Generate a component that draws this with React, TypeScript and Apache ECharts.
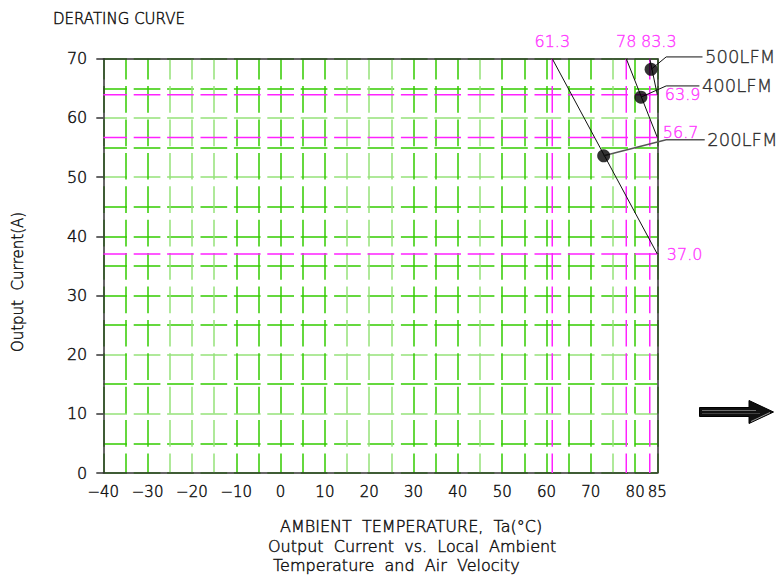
import { useEffect, useRef } from 'react';
import * as echarts from 'echarts';

const xMin = -40;
const xMax = 85;
const xStep = 5;
const yMin = 0;
const yMax = 70;
const yStep = 5;

const airflowNames = ['200LFM', '400LFM', '500LFM'];
const deratingStartTemp = [61.3, 78, 83.3];
const currentAtMaxTemp = [37.0, 56.7, 63.9];
const markerTemp = [72.9, 81.3, 83.6];
const markerCurrent = [53.6, 63.5, 68.2];
const leaderElbowTemp = [87, 87, 87];
const leaderEndTemp = [95.7, 94.5, 95.2];
const leaderCurrent = [56.3, 65.4, 70.3];
const refTempLabels = ['61.3', '78', '83.3'];
const refCurrentLabels = ['37.0', '56.7', '63.9'];

const FONT = 'DejaVu Sans';

export default function App() {
  const ref = useRef<HTMLDivElement>(null);
  useEffect(() => {
    const chart = echarts.init(ref.current!, null, { renderer: 'svg' });
    const dark = '#33cc00';
    const light = '#95e27a';
    const mag = '#ff22ff';
    const ink = '#111';
    const bw = 0.45;
    const dash = [26.7, 6.7];
    const D = dark, L = light;
    const xColors = [D, D, D, L, L, L, D, D, D, D, D, L, L, L, D, D, D, L, D, D, D, D, D, L, D, D];
    const yColors = [D, D, L, D, L, D, D, D, D, D, L, D, L, D, D];

    const inkText = { fontFamily: FONT, fontWeight: 200, color: ink, textBorderColor: ink, textBorderWidth: bw };
    const magText = { fontFamily: FONT, fontWeight: 200, color: mag, textBorderColor: mag, textBorderWidth: bw };

    const fmtX = (v: number) => {
      if (v % 10 !== 0 && v !== xMax) return '';
      return v < 0 ? '\u2212' + Math.abs(v) : String(v);
    };

    const magV = deratingStartTemp.map((t) => ({
      type: 'line',
      data: [[t, yMax], [t, yMin]],
      symbol: 'none',
      silent: true,
      z: 3,
      lineStyle: { color: mag, width: 1.5, type: dash, dashOffset: 6 },
    }));
    const magH = currentAtMaxTemp.map((c) => ({
      type: 'line',
      data: [[xMin, c], [xMax, c]],
      symbol: 'none',
      silent: true,
      z: 3,
      lineStyle: { color: mag, width: 1.5, type: dash, dashOffset: 2.7 },
    }));
    const curves = airflowNames.map((n, i) => ({
      type: 'line',
      name: n,
      data: [[deratingStartTemp[i], yMax], [xMax, currentAtMaxTemp[i]]],
      symbol: 'none',
      silent: true,
      z: 5,
      lineStyle: { color: '#111', width: 1 },
    }));

    const topLabelOffsets = [[0, 0], [0, 0], [9, 0]];
    const rightLabelOffsets = [[2, 0], [-2, -4.6], [0, 0]];

    const gText = (text: string, x: number, y: number, size: number, extra: any = {}) => ({
      type: 'text',
      x,
      y,
      ...extra,
      style: {
        text,
        font: `200 ${size}px "${FONT}"`,
        fill: ink,
        stroke: ink,
        lineWidth: bw,
        align: extra.align || 'left',
        verticalAlign: 'middle',
      },
    });

    const staticGraphic: any[] = [
      {
        ...gText('Output  Current(A)', 17.5, 282, 15),
        rotation: Math.PI / 2,
        style: {
          text: 'Output  Current(A)',
          font: `200 15px "${FONT}"`,
          fill: ink,
          stroke: ink,
          lineWidth: bw,
          align: 'center',
          verticalAlign: 'middle',
        },
      },
      gText('AMBIENT  TEMPERATURE,  Ta(\u00B0C)', 280, 526, 16),
      gText('Output  Current  vs.  Local  Ambient', 268, 546.5, 16),
      gText('Temperature  and  Air  Velocity', 273, 565, 16),
      {
        type: 'polygon',
        shape: {
          points: [
            [699.5, 407.5],
            [749, 407.5],
            [749, 400.5],
            [773.5, 412],
            [749, 423.5],
            [749, 416.5],
            [699.5, 416.5],
          ],
        },
        style: { fill: '#111', stroke: '#000', lineWidth: 1 },
      },
      {
        type: 'line',
        shape: { x1: 702, y1: 410.5, x2: 756, y2: 410.5 },
        style: { stroke: '#888', lineWidth: 0.8 },
      },
      {
        type: 'line',
        shape: { x1: 702, y1: 413.5, x2: 760, y2: 413.5 },
        style: { stroke: '#666', lineWidth: 0.6 },
      },
      {
        type: 'line',
        shape: { x1: 751, y1: 421.5, x2: 770, y2: 412.5 },
        style: { stroke: '#bbb', lineWidth: 0.8 },
      },
    ];

    const option: any = {
      animation: false,
      textStyle: { fontFamily: FONT },
      title: {
        text: 'DERATING CURVE',
        left: 48,
        top: 6,
        textStyle: { ...inkText, fontSize: 15 },
      },
      grid: { left: 103.3, right: 120.7, top: 58.7, bottom: 104, containLabel: false },
      xAxis: [
        {
          type: 'value',
          position: 'bottom',
          min: xMin,
          max: xMax,
          interval: xStep,
          axisLine: { show: true, onZero: false, lineStyle: { color: '#333', width: 1.5 } },
          axisTick: { show: false },
          axisLabel: { formatter: fmtX, margin: 11, fontSize: 15, ...inkText },
          splitLine: {
            show: true,
            lineStyle: { color: xColors, width: 1.5, type: dash, dashOffset: 6 },
          },
        },
        {
          type: 'value',
          position: 'top',
          min: xMin,
          max: xMax,
          interval: xStep,
          axisLine: { show: true, onZero: false, lineStyle: { color: '#333', width: 1.5 } },
          axisTick: { show: false },
          axisLabel: { show: false },
          splitLine: { show: false },
        },
      ],
      yAxis: [
        {
          type: 'value',
          position: 'left',
          min: yMin,
          max: yMax,
          interval: 10,
          axisLine: { show: true, onZero: false, lineStyle: { color: '#333', width: 1.5 } },
          axisTick: { show: true, length: 7, inside: false, lineStyle: { color: '#333', width: 1.5 } },
          axisLabel: { margin: 16, fontSize: 16, ...inkText, padding: [6, 0, 0, 0] },
          splitLine: { show: false },
        },
        {
          type: 'value',
          position: 'right',
          min: yMin,
          max: yMax,
          interval: yStep,
          axisLine: { show: true, onZero: false, lineStyle: { color: '#333', width: 1.5 } },
          axisTick: { show: false },
          axisLabel: { show: false },
          splitLine: {
            show: true,
            lineStyle: { color: yColors, width: 1.5, type: dash, dashOffset: 2.7 },
          },
        },
      ],
      series: [
        ...magV,
        ...magH,
        ...curves,
        {
          type: 'scatter',
          data: markerTemp.map((t, i) => [t, markerCurrent[i]]),
          symbolSize: 13,
          itemStyle: { color: '#000' },
          silent: true,
          clip: false,
          z: 7,
        },
        {
          type: 'scatter',
          data: leaderEndTemp.map((t, i) => ({
            value: [t, leaderCurrent[i]],
            label: { formatter: airflowNames[i] },
          })),
          symbolSize: 1,
          itemStyle: { color: 'rgba(0,0,0,0)' },
          silent: true,
          clip: false,
          z: 7,
          label: { show: true, position: 'right', distance: 2, fontSize: 18, ...inkText },
        },
        {
          type: 'scatter',
          data: deratingStartTemp.map((t, i) => ({
            value: [t, yMax],
            label: { formatter: refTempLabels[i], offset: topLabelOffsets[i] },
          })),
          symbolSize: 1,
          itemStyle: { color: 'rgba(0,0,0,0)' },
          silent: true,
          clip: false,
          z: 7,
          label: { show: true, position: 'top', distance: 9, fontSize: 16, ...magText },
        },
        {
          type: 'scatter',
          data: currentAtMaxTemp.map((c, i) => ({
            value: [xMax, c],
            label: { formatter: refCurrentLabels[i], offset: rightLabelOffsets[i] },
          })),
          symbolSize: 1,
          itemStyle: { color: 'rgba(0,0,0,0)' },
          silent: true,
          clip: false,
          z: 7,
          label: { show: true, position: 'right', distance: 7, fontSize: 16, ...magText },
        },
      ],
      graphic: staticGraphic,
    };
    chart.setOption(option);

    const toPx = (p: number[]) => chart.convertToPixel({ gridIndex: 0 }, p) as number[];
    const leaderGraphic = airflowNames.map((n, i) => ({
      type: 'polyline',
      z: 6,
      shape: {
        points: [
          toPx([markerTemp[i], markerCurrent[i]]),
          toPx([leaderElbowTemp[i], leaderCurrent[i]]),
          toPx([leaderEndTemp[i], leaderCurrent[i]]),
        ],
      },
      style: { stroke: i === 0 ? '#555' : '#111', lineWidth: i === 0 ? 1.6 : 1, fill: null },
    }));
    chart.setOption({ graphic: [...staticGraphic, ...leaderGraphic] });

    return () => chart.dispose();
  }, []);
  return (
    <div
      ref={ref}
      style={{ position: 'absolute', left: 0, top: 0, width: 778, height: 577 }}
    />
  );
}
